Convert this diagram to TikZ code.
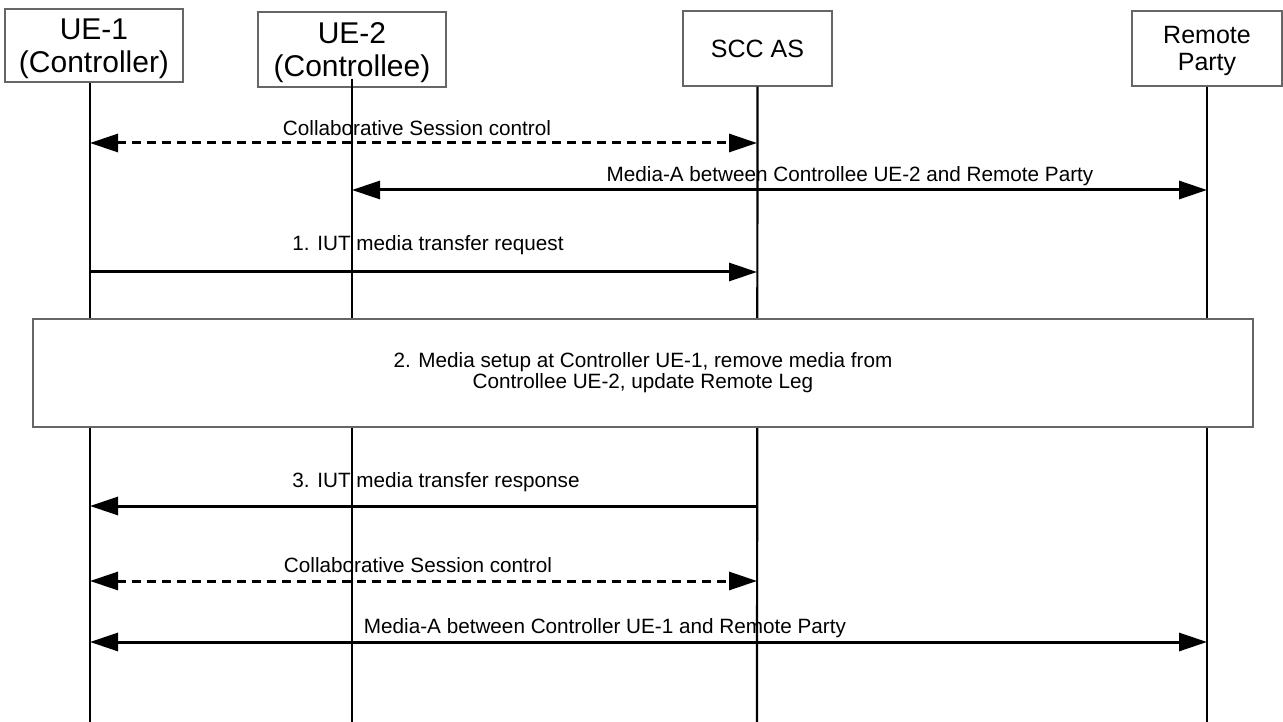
\documentclass[tikz,border=0pt]{standalone}
\usepackage{fontspec}
\setmainfont{Liberation Sans}
\usetikzlibrary{arrows.meta,positioning}

\begin{document}
\begin{tikzpicture}[
  x=1pt, y=-1pt,
  font=\fontsize{20.7}{21}\selectfont,
  head/.style={draw=black!60, line width=1.5pt, align=center,
    inner sep=0pt, minimum height=75pt, text depth=0pt},
  uefont/.style={font=\fontsize{30}{33}\selectfont},
  nwfont/.style={font=\fontsize{25}{27}\selectfont},
  life/.style={line width=2.2pt},
  msg/.style={line width=3pt, -{Triangle[length=28pt,width=18pt]}},
  both/.style={line width=3pt,
    {Triangle[length=28pt,width=18pt]}-{Triangle[length=28pt,width=18pt]}},
  ctrl/.style={both, dash pattern=on 9pt off 6pt},
  lbl/.style={anchor=base, inner sep=0pt}
]
  \useasboundingbox (0,0) rectangle (1283,722);

  % entities
  \node[head, uefont, minimum width=178pt, minimum height=73pt] (ue1) at (94,45.5) {UE-1\\(Controller)};
  \node[head, uefont, minimum width=188pt] (ue2) at (352,49.5) {UE-2\\(Controllee)};
  \node[head, nwfont, minimum width=149pt] (scc) at (757.5,48.5) {SCC AS};
  \node[head, nwfont, minimum width=150pt] (rp) at (1207,48.5) {Remote\\Party};

  % lifelines
  \coordinate (ue1end) at (90,722);
  \coordinate (ue2end) at (352,722);
  \coordinate (sccend) at (757,722);
  \coordinate (rpend) at (1207,722);
  \draw[life] ([xshift=-4pt]ue1.south) -- (ue1end);
  \draw[life] ([yshift=9pt]ue2.south) -- (ue2end);
  \draw[life] (scc.south) -- (sccend);
  \draw[life] (rp.south) -- (rpend);

  % message points on the lifelines
  \foreach \n/\y in {1/143, 2/190, 3/272, 4/506, 5/581, 6/642} {
    \coordinate (ue1-\n) at (90,\y);
    \coordinate (ue2-\n) at (352,\y);
    \coordinate (scc-\n) at (757,\y);
    \coordinate (rp-\n) at (1207,\y);
  }

  \draw[ctrl] (ue1-1) -- (scc-1);
  \draw[both] (ue2-2) -- (rp-2);
  \draw[msg] (ue1-3) -- (scc-3);
  \draw[msg] (scc-4) -- (ue1-4);
  \draw[ctrl] (ue1-5) -- (scc-5);
  \draw[both] (ue1-6) -- (rp-6);

  \node[lbl] (l1) at (417,136) {Collaborative Session control};
  \node[lbl] (l2) at (850,182) {Media-A between Controllee UE-2 and Remote Party};
  \node[lbl] (l3) at (428,251) {1. IUT media transfer request};
  \node[lbl] (l4) at (436,487) {3. IUT media transfer response};
  \node[lbl] (l5) at (418,572) {Collaborative Session control};
  \node[lbl] (l6) at (605,633) {Media-A between Controller UE-1 and Remote Party};

  % step 2 covers the lifelines
  \node[draw=black!60, line width=1.5pt, fill=white, align=center,
    minimum width=1220pt, minimum height=108pt] (stage2) at (643,373)
    {2. Media setup at Controller UE-1, remove media from\\Controllee UE-2, update Remote Leg};
\end{tikzpicture}
\end{document}
